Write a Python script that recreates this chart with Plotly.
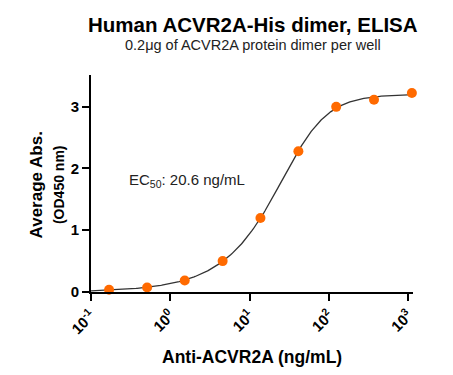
import numpy as np
import plotly.graph_objects as go

# Data
conc = [0.169, 0.51, 1.52, 4.57, 13.7, 41.2, 123.5, 370, 1111]
od450 = [0.036, 0.073, 0.186, 0.50, 1.196, 2.277, 2.995, 3.109, 3.22]

x_tick_vals = [0.1, 1, 10, 100, 1000]
x_tick_text = ["10<sup>-1</sup>", "10<sup>0</sup>", "10<sup>1</sup>", "10<sup>2</sup>", "10<sup>3</sup>"]
y_tick_vals = [0, 1, 2, 3]

ec50_label = "EC<sub>50</sub>: 20.6 ng/mL"


# ---- Logistic (5-parameter) regression of the data, like the original fit ----
def logistic(p, xx):
    B, T, lc, lh, ls = p
    h, s = np.exp(lh), np.exp(ls)
    with np.errstate(over="ignore", divide="ignore", invalid="ignore"):
        return B + (T - B) / (1 + 10 ** ((lc - np.log10(xx)) * h)) ** s


xd, yd = np.array(conc), np.array(od450)
p = np.array([0.02, 3.18, np.log10(22.0), np.log(1.4), np.log(0.9)])
p0 = p.copy()


def cost(pp):
    r = logistic(pp, xd) - yd
    return float(r @ r)


c = cost(p)
lam = 1e-2
for _ in range(400):
    r = logistic(p, xd) - yd
    J = np.empty((len(xd), 5))
    for j in range(5):
        dp = np.zeros(5)
        dp[j] = 1e-6
        J[:, j] = (logistic(p + dp, xd) - logistic(p - dp, xd)) / 2e-6
    A = J.T @ J
    g = J.T @ r
    improved = False
    while lam < 1e12:
        try:
            step = np.linalg.solve(A + lam * np.diag(np.diag(A) + 1e-12), -g)
        except np.linalg.LinAlgError:
            lam *= 4
            continue
        pn = p + step
        cn = cost(pn)
        if np.isfinite(cn) and cn < c:
            p, c = pn, cn
            lam = max(lam / 3, 1e-12)
            improved = True
            break
        lam *= 4
    if not improved:
        break
if not np.all(np.isfinite(p)):
    p = p0

xc = np.logspace(-1, 3.05, 300)
yc = logistic(p, xc)

FONT = "Liberation Sans, Arial, sans-serif"

fig = go.Figure()
fig.add_trace(go.Scatter(x=xc, y=yc, mode="lines",
                         line=dict(color="#333333", width=1.3),
                         hoverinfo="skip", showlegend=False, cliponaxis=False))
fig.add_trace(go.Scatter(x=conc, y=od450, mode="markers",
                         marker=dict(color="#FF6A00", size=10, line=dict(width=0)),
                         showlegend=False, cliponaxis=False))

fig.update_layout(
    width=453, height=375,
    margin=dict(l=83, r=48, t=67, b=91, autoexpand=False),
    paper_bgcolor="white", plot_bgcolor="white",
    font=dict(family=FONT, color="black"),
    xaxis=dict(type="log", range=[-1, 3.06], showgrid=False, zeroline=False,
               automargin=False,
               showline=True, linecolor="black", linewidth=2,
               ticks="outside", ticklen=7, tickwidth=2, tickcolor="black",
               tickvals=x_tick_vals, ticktext=x_tick_text, tickangle=-45,
               tickfont=dict(family=FONT, size=15, color="black", weight="bold")),
    yaxis=dict(range=[0, 3.51], showgrid=False, zeroline=False,
               automargin=False,
               showline=True, linecolor="black", linewidth=2,
               ticks="outside", ticklen=7, tickwidth=2, tickcolor="black",
               tickvals=y_tick_vals,
               tickfont=dict(family=FONT, size=15, color="black", weight="bold")),
    annotations=[
        dict(text="<b>Human ACVR2A-His dimer, ELISA</b>", xref="paper", yref="paper",
             x=0.502, y=1.235, showarrow=False, xanchor="center", yanchor="middle",
             font=dict(size=20.5, family=FONT, color="black")),
        dict(text="0.2μg of ACVR2A protein dimer per well", xref="paper", yref="paper",
             x=0.502, y=1.14, showarrow=False, xanchor="center", yanchor="middle",
             font=dict(size=14.5, family=FONT, color="#222222")),
        dict(text="<b>Anti-ACVR2A (ng/mL)</b>", xref="paper", yref="paper",
             x=0.5, y=-0.301, showarrow=False, xanchor="center", yanchor="middle",
             font=dict(size=17.5, family=FONT, color="black")),
        dict(text="<b>Average Abs.</b><br><span style='font-size:14px'><b>(OD450 nm)</b></span>",
             xref="paper", yref="paper", x=-0.137, y=0.495, textangle=-90,
             showarrow=False, xanchor="center", yanchor="middle",
             font=dict(size=17, family=FONT, color="black")),
        dict(text=ec50_label, xref="paper", yref="paper",
             x=0.112, y=0.516, showarrow=False, xanchor="left", yanchor="middle",
             font=dict(size=15, family=FONT, color="#222222")),
    ],
)

fig.write_html("out.html")
